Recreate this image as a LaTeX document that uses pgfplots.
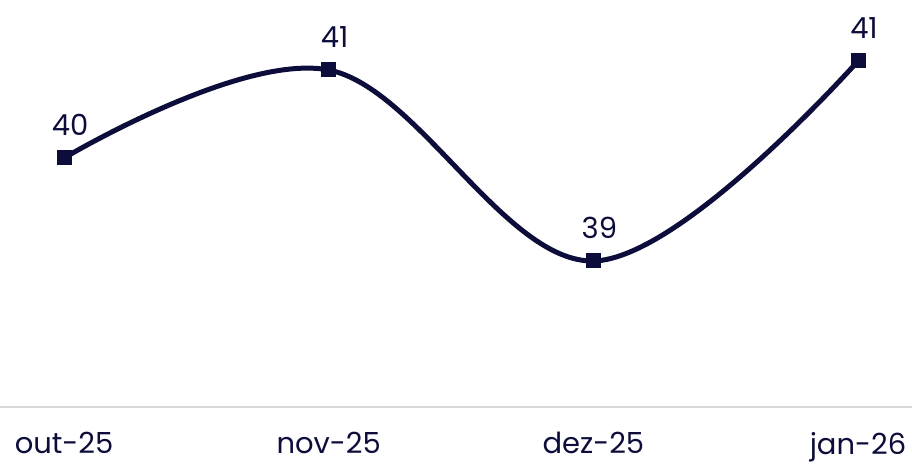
\documentclass[border=0pt]{standalone}
\usepackage{pgfplots}
\pgfplotsset{compat=1.18}
\usepackage{fontspec}
\setmainfont{Poppins}
\definecolor{navy}{RGB}{13,13,59}
\definecolor{axisgray}{RGB}{217,217,217}
\begin{document}
\begin{tikzpicture}
\begin{axis}[
    scale only axis,
    width=456pt, height=203.5pt,
    xmin=-0.242, xmax=3.204,
    ymin=37.7, ymax=41.77,
    axis x line=bottom,
    axis y line=none,
    axis line style={axisgray, line width=1pt, -},
    xtick={0,1,2,3},
    xticklabels={out-25,nov-25,dez-25,jan-26},
    major tick length=0pt,
    xticklabel style={font=\fontsize{14.5}{17}\selectfont, text=navy, yshift=-9pt},
    clip=false,
    point meta=explicit symbolic,
    nodes near coords={\pgfplotspointmeta},
    nodes near coords style={font=\fontsize{14.5}{17}\selectfont, text=navy,
        anchor=south, xshift=3pt, yshift=8pt},
]
\addplot[navy, line width=2.5pt, smooth, tension=0.6,
    mark=square*, mark size=3.5pt, mark options={solid, line width=0pt}]
    coordinates {
    (0,40.19) [40]
    (1,41.07) [41]
    (2,39.16) [39]
    (3,41.16) [41]
    };
\end{axis}
\pgfresetboundingbox
\path (current axis.south west) ++(0,-31pt) rectangle (current axis.north east);
\end{tikzpicture}
\end{document}
